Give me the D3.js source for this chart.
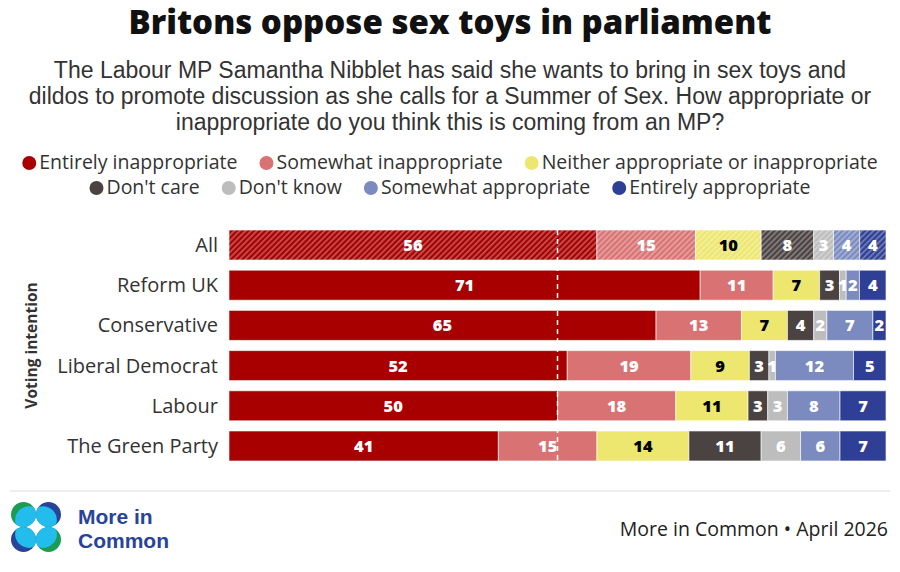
<!DOCTYPE html>
<html>
<head>
<meta charset="utf-8">
<script src="https://cdn.jsdelivr.net/npm/d3@7"></script>
<style>
  body { margin: 0; background: #fff; }
  svg { font-family: "Open Sans", Lato, sans-serif; }
</style>
</head>
<body>
<svg id="chart" width="900" height="572"></svg>
<script>
// data
const groups = ["All", "Reform UK", "Conservative", "Liberal Democrat", "Labour", "The Green Party"]
const answers = ["Entirely inappropriate", "Somewhat inappropriate", "Neither appropriate or inappropriate",
    "Don't care", "Don't know", "Somewhat appropriate", "Entirely appropriate"]
const allVals = [56, 15, 10, 8, 3, 4, 4]
const reformVals = [71, 11, 7, 3, 1, 2, 4]
const conVals = [65, 13, 7, 4, 2, 7, 2]
const libdemVals = [52, 19, 9, 3, 1, 12, 5]
const labourVals = [50, 18, 11, 3, 3, 8, 7]
const greenVals = [41, 15, 14, 11, 6, 6, 7]
const colors = ["#a80000", "#d97373", "#ede76f", "#4b4242", "#bdbdbd", "#7b8bbf", "#2f3f95"]
const textColors = ["#fff", "#fff", "#000", "#fff", "#fff", "#fff", "#fff"]

const rows = [allVals, reformVals, conVals, libdemVals, labourVals, greenVals]

const svg = d3.select("#chart")
const width = +svg.attr("width")
const ink = "#333"

// hatch patterns for the "All" row
const defs = svg.append("defs")
colors.forEach(function(c, i) {
    var p = defs.append("pattern")
        .attr("id", "hatch" + i)
        .attr("patternUnits", "userSpaceOnUse")
        .attr("width", 4).attr("height", 4)
        .attr("patternTransform", "rotate(45)")
    p.append("rect").attr("width", 4).attr("height", 4).attr("fill", c)
    p.append("rect").attr("width", 1.6).attr("height", 4).attr("fill", "#fff").attr("fill-opacity", 0.35)
})

// title + subtitle
svg.append("text")
    .attr("x", width / 2).attr("y", 34)
    .attr("text-anchor", "middle")
    .attr("font-size", 33).attr("font-weight", 800)
    .attr("fill", "#111")
    .text("Britons oppose sex toys in parliament")

const subtitle = [
    "The Labour MP Samantha Nibblet has said she wants to bring in sex toys and",
    "dildos to promote discussion as she calls for a Summer of Sex. How appropriate or",
    "inappropriate do you think this is coming from an MP?"
]
// tighter line box font so the 26px line spacing doesn't collide
svg.append("g").selectAll("text").data(subtitle).join("text")
    .attr("x", width / 2)
    .attr("y", (d, i) => 78 + i * 26)
    .attr("text-anchor", "middle")
    .attr("font-family", "'Liberation Sans', Arial, sans-serif")
    .attr("font-size", 23)
    .attr("fill", ink)
    .text(d => d)

// legend, two centred rows
const legendRows = [[0, 1, 2], [3, 4, 5, 6]]
const legendY = [162, 187]
const legendGap = 22
legendRows.forEach(function(idx, r) {
    var g = svg.append("g")
    var xpos = 0
    idx.forEach(function(k) {
        var item = g.append("g").attr("transform", "translate(" + xpos + ",0)")
        item.append("circle").attr("cx", 7).attr("cy", 1).attr("r", 7).attr("fill", colors[k])
        var t = item.append("text")
            .attr("x", 17).attr("y", 7)
            .attr("font-size", 19.5)
            .attr("fill", ink)
            .text(answers[k])
        xpos += 17 + t.node().getComputedTextLength() + legendGap
    })
    var w = xpos - legendGap
    g.attr("transform", "translate(" + ((width - w) / 2) + "," + legendY[r] + ")")
})

// scales
const x = d3.scaleLinear().domain([0, 1]).range([229, 886])
const y = d3.scaleBand().domain(groups).range([225, 466]).paddingInner(0.254).paddingOuter(0.125)

// bars
const barG = svg.append("g")
rows.forEach(function(vals, r) {
    var total = d3.sum(vals)
    var cum = 0
    var segs = vals.map(function(v, k) {
        var s = { k: k, v: v, x0: cum / total, x1: (cum + v) / total }
        cum += v
        return s
    })
    var g = barG.append("g")
    g.selectAll("rect").data(segs).join("rect")
        .attr("x", d => x(d.x0))
        .attr("y", y(groups[r]))
        .attr("width", d => x(d.x1) - x(d.x0))
        .attr("height", y.bandwidth())
        .attr("fill", d => r === 0 ? "url(#hatch" + d.k + ")" : colors[d.k])
        .attr("stroke", "#fff")
        .attr("stroke-opacity", 0.6)
        .attr("stroke-width", 1)
    g.selectAll("text").data(segs).join("text")
        .attr("x", d => x((d.x0 + d.x1) / 2))
        .attr("y", y(groups[r]) + y.bandwidth() / 2 + 6)
        .attr("text-anchor", "middle")
        .attr("font-size", 16.5).attr("font-weight", 800)
        .attr("fill", d => textColors[d.k])
        .text(d => d.v)
})

// 50% marker
svg.append("line")
    .attr("x1", x(0.5)).attr("x2", x(0.5))
    .attr("y1", y(groups[0])).attr("y2", y(groups[groups.length - 1]) + y.bandwidth())
    .attr("stroke", "#fff").attr("stroke-width", 1.5)
    .attr("stroke-dasharray", "5,4")

// group labels
svg.append("g").selectAll("text").data(groups).join("text")
    .attr("x", 218)
    .attr("y", d => y(d) + y.bandwidth() / 2 + 7)
    .attr("text-anchor", "end")
    .attr("font-size", 20)
    .attr("fill", ink)
    .text(d => d)

svg.append("text")
    .attr("transform", "translate(37," + (y(groups[0]) + (y(groups[5]) + y.bandwidth() - y(groups[0])) / 2) + ") rotate(-90)")
    .attr("text-anchor", "middle")
    .attr("font-size", 15.5).attr("font-weight", 700)
    .attr("fill", ink)
    .text("Voting intention")

// footer
svg.append("line")
    .attr("x1", 10).attr("x2", 890)
    .attr("y1", 491).attr("y2", 491)
    .attr("stroke", "#ddd").attr("stroke-width", 1)

svg.append("text")
    .attr("x", 888).attr("y", 536)
    .attr("text-anchor", "end")
    .attr("font-size", 19.5)
    .attr("fill", "#222")
    .text("More in Common \u2022 April 2026")

// logo
const logo = svg.append("g").attr("transform", "translate(36,527)")
const petals = [
    { cx: -12.5, cy: -12.5, outer: "#1c9b55" },
    { cx: 12.5, cy: -12.5, outer: "#27449a" },
    { cx: -12.5, cy: 12.5, outer: "#27449a" },
    { cx: 12.5, cy: 12.5, outer: "#1c9b55" }
]
petals.forEach(function(p, i) {
    defs.append("clipPath").attr("id", "petal" + i)
        .append("circle").attr("cx", p.cx).attr("cy", p.cy).attr("r", 12.5)
    logo.append("circle").attr("cx", p.cx).attr("cy", p.cy).attr("r", 12.5).attr("fill", p.outer)
    logo.append("circle")
        .attr("cx", p.cx * 0.55).attr("cy", p.cy * 0.55).attr("r", 14)
        .attr("fill", "#22bdec")
        .attr("clip-path", "url(#petal" + i + ")")
})
svg.append("g").selectAll("text").data(["More in", "Common"]).join("text")
    .attr("x", 78)
    .attr("y", (d, i) => 523.5 + i * 24)
    .attr("font-family", "'Liberation Sans', Arial, sans-serif")
    .attr("font-size", 21).attr("font-weight", 700)
    .attr("fill", "#27449a")
    .text(d => d)
</script>
</body>
</html>
